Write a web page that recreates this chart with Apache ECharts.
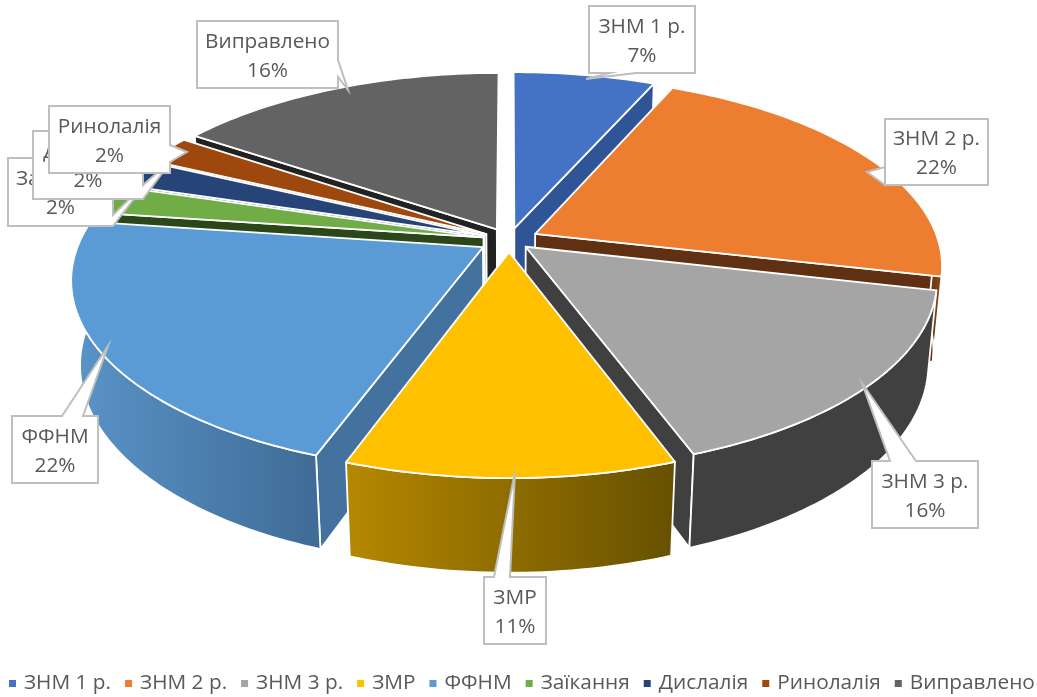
<!DOCTYPE html>
<html>
<head>
<meta charset="utf-8">
<style>
  html, body { margin: 0; padding: 0; background: #fff; }
  #chart { width: 1037px; height: 697px; }
</style>
<script src="https://cdn.jsdelivr.net/npm/echarts@6/dist/echarts.min.js"></script>
</head>
<body>
<div id="chart"></div>
<script>
// дані
var categories = ["ЗНМ 1 р.", "ЗНМ 2 р.", "ЗНМ 3 р.", "ЗМР", "ФФНМ", "Заїкання", "Дислалія", "Ринолалія", "Виправлено"];
var values = [6.6, 22.0, 15.8, 11.1, 21.7, 2.49, 2.4, 2.4, 15.51];

// кольори
var topColors = ["#4472C4", "#ED7D31", "#A5A5A5", "#FFC000", "#5B9BD5", "#70AD47", "#264478", "#9E480E", "#636363"];
var faceColors = ["#2F5597", "#5F3012", "#404040", "#665000", "#44729F", "#2B4618", "#1A2F54", "#5F2C08", "#222222"];
var wallLeft = ["#2F5597", "#5F3012", "#404040", "#B58800", "#5A94C9", "#2B4618", "#1A2F54", "#5F2C08", "#222222"];
var wallRight = ["#2F5597", "#8A4A1D", "#404040", "#665000", "#3F6B95", "#2B4618", "#1A2F54", "#5F2C08", "#222222"];

// вилучення секторів і порядок малювання (від дальніх до ближніх)
var explodes = [0.065, 0.073, 0.055, 0.065, 0.075, 0.065, 0.065, 0.065, 0.065];
var drawOrder = [0, 8, 1, 7, 6, 5, 4, 2, 3];

// виноски: прямокутник [x, y, ширина, висота] і хвіст [x1, y1, кінчикX, кінчикY, x2, y2]
var labelBoxes = [
  [589, 6, 106, 67], [885, 119, 103, 66], [872, 461, 106, 67], [484, 577, 62, 67], [12, 416, 86, 67],
  [8, 158, 105, 68], [33, 131, 110, 68], [49, 106, 121, 67], [197, 21, 141, 67]
];
var labelTails = [
  [636, 73, 586, 79, 610, 73], [885, 167, 867, 172, 885, 185], [916, 461, 862, 383, 890, 461], [510, 577, 515, 472, 494, 577], [83, 416, 108, 346, 62, 416],
  [113, 215, 147, 182, 113, 226], [143, 185, 172, 160, 143, 199], [170, 145, 187, 152, 170, 162], [338, 60, 348, 90, 338, 77]
];
var labelOrder = [0, 1, 2, 3, 4, 5, 6, 7, 8];

var cx = 509, cy = 240, rx = 403, ry = 185, depth = 85;
var persp = 0.162, perspDepth = 0.02;

var total = values.reduce(function (a, b) { return a + b; }, 0);
var starts = [];
var run = 0;
values.forEach(function (v) {
  starts.push(run / total * Math.PI * 2);
  run += v;
});

function project(x, y, z) {
  var s = 1 / (1 + persp * y + perspDepth * z);
  return [cx + rx * x * s, cy + (-ry * y + depth * z) * s];
}

function arcPoints(ox, oy, a0, a1, z) {
  var pts = [];
  var steps = Math.max(4, Math.ceil((a1 - a0) / 0.02));
  for (var i = 0; i <= steps; i++) {
    var a = a0 + (a1 - a0) * i / steps;
    pts.push(project(ox + Math.sin(a), oy + Math.cos(a), z));
  }
  return pts;
}

function signedArea(pts) {
  var sum = 0;
  for (var i = 0; i < pts.length; i++) {
    var p = pts[i], q = pts[(i + 1) % pts.length];
    sum += p[0] * q[1] - q[0] * p[1];
  }
  return sum;
}

function polygon(points, fill, z2) {
  return {
    type: "polygon",
    z2: z2,
    shape: { points: points },
    style: { fill: fill, stroke: "#fff", lineWidth: 1.8, lineJoin: "round" }
  };
}

function renderSlice(idx, order) {
  var a0 = starts[idx];
  var a1 = a0 + values[idx] / total * Math.PI * 2;
  var mid = (a0 + a1) / 2;
  var ox = explodes[idx] * Math.sin(mid);
  var oy = explodes[idx] * Math.cos(mid);
  var top = arcPoints(ox, oy, a0, a1, 0);
  var bottom = arcPoints(ox, oy, a0, a1, 1);
  var apexTop = project(ox, oy, 0);
  var apexBottom = project(ox, oy, 1);
  var base = order * 10;
  var children = [];
  // радіальні грані: лише ті, що видно глядачеві
  var faceStart = [apexTop, top[0], bottom[0], apexBottom];
  var faceEnd = [apexTop, top[top.length - 1], bottom[bottom.length - 1], apexBottom];
  if (signedArea(faceStart) < 0) {
    children.push(polygon(faceStart, faceColors[idx], base));
  }
  if (signedArea(faceEnd) > 0) {
    children.push(polygon(faceEnd, faceColors[idx], base + 1));
  }
  // зовнішня стінка лише там, де вона повернута до глядача
  var w0 = Math.max(a0, Math.PI / 2);
  var w1 = Math.min(a1, Math.PI * 1.5);
  if (w1 > w0) {
    var wallTop = arcPoints(ox, oy, w0, w1, 0);
    var wallBottom = arcPoints(ox, oy, w0, w1, 1);
    children.push(polygon(wallTop.concat(wallBottom.reverse()), {
      type: "linear", x: 0, y: 0, x2: 1, y2: 0,
      colorStops: [{ offset: 0, color: wallLeft[idx] }, { offset: 1, color: wallRight[idx] }]
    }, base + 2));
  }
  children.push(polygon([apexTop].concat(top), topColors[idx], base + 3));
  return { type: "group", children: children };
}

function renderLabel(idx, order) {
  var b = labelBoxes[idx];
  var t = labelTails[idx];
  var base = 1000 + order * 10;
  // контур виноски разом із хвостом
  var pts = [[b[0], b[1]], [b[0] + b[2], b[1]], [b[0] + b[2], b[1] + b[3]], [b[0], b[1] + b[3]]];
  var tail = [[t[0], t[1]], [t[2], t[3]], [t[4], t[5]]];
  var outline;
  if (t[1] === b[1]) {
    // хвіст на верхній стороні
    outline = [pts[0]].concat(tail.slice().reverse(), [pts[1], pts[2], pts[3]]);
  } else if (t[0] === b[0]) {
    // хвіст на лівій стороні
    outline = [pts[0], pts[1], pts[2], pts[3]].concat(tail);
  } else if (t[0] === b[0] + b[2]) {
    // хвіст на правій стороні
    outline = [pts[0], pts[1]].concat(tail, [pts[2], pts[3]]);
  } else {
    // хвіст на нижній стороні
    outline = [pts[0], pts[1], pts[2]].concat(tail, [pts[3]]);
  }
  return {
    type: "group",
    children: [
      {
        type: "polygon",
        z2: base,
        shape: { points: outline },
        style: { fill: "#fff", stroke: "#BFBFBF", lineWidth: 2 }
      },
      {
        type: "text",
        z2: base + 1,
        style: {
          x: b[0] + b[2] / 2,
          y: b[1] + b[3] / 2 + 2,
          text: categories[idx] + "\n" + Math.round(values[idx] / total * 100) + "%",
          font: '20.8px "Open Sans"',
          fill: "#595959",
          align: "center",
          verticalAlign: "middle",
          lineHeight: 29
        }
      }
    ]
  };
}

var series = categories.map(function (name, idx) {
  var order = drawOrder.indexOf(idx);
  return {
    type: "custom",
    name: name,
    coordinateSystem: "none",
    silent: true,
    z: 2 + order,
    itemStyle: { color: topColors[idx] },
    data: [values[idx]],
    renderItem: function () {
      return renderSlice(idx, order);
    }
  };
});

series.push({
  type: "custom",
  name: "labels",
  coordinateSystem: "none",
  silent: true,
  z: 30,
  data: labelOrder,
  renderItem: function (params, api) {
    return renderLabel(api.value(0), params.dataIndex);
  }
});

var chart = echarts.init(document.getElementById("chart"), null, { renderer: "canvas" });
chart.setOption({
  animation: false,
  backgroundColor: "#fff",
  legend: {
    data: categories,
    left: 9,
    top: 673,
    icon: "rect",
    itemWidth: 7,
    itemHeight: 7,
    itemGap: 14,
    padding: 0,
    selectedMode: false,
    textStyle: { color: "#595959", fontSize: 20.8, fontFamily: "Open Sans", padding: [0, 0, 0, 3] }
  },
  series: series
});
</script>
</body>
</html>
